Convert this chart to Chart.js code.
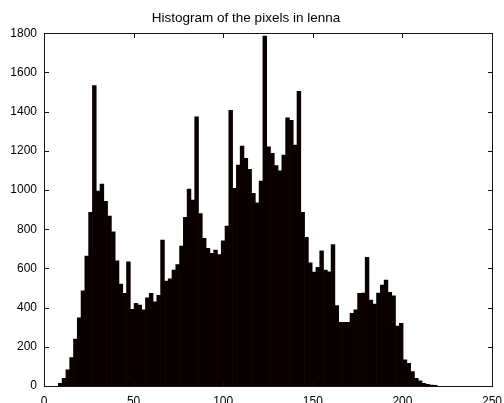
<!DOCTYPE html>
<html>
<head>
<meta charset="utf-8">
<script src="https://cdn.jsdelivr.net/npm/chart.js@4.4.1/dist/chart.umd.min.js"></script>
<style>
  html, body { margin: 0; padding: 0; background: #fff; }
  #wrap { width: 504px; height: 403px; position: relative; }
  #box { position: absolute; border: 1px solid #151515; box-sizing: border-box; pointer-events: none; }
</style>
</head>
<body>
<div id="wrap"><canvas id="histChart" width="504" height="403"></canvas><div id="box"></div></div>
<script>
// 100 bins, first edge and bin width
const binStart = 8.0;
const binWidth = 2.114;

const pixelCounts = [
    14, 39, 82, 145, 239, 348, 485, 663, 886, 1533,
    994, 1030, 942, 867, 787, 639, 520, 473, 634, 391,
    422, 413, 388, 450, 473, 430, 462, 745, 535, 547,
    592, 620, 714, 860, 1005, 949, 1373, 880, 753, 702,
    677, 694, 671, 741, 816, 1407, 1008, 1127, 1224, 1161,
    1105, 983, 935, 1045, 1785, 1220, 1187, 1124, 1098, 1178,
    1368, 1356, 1229, 1504, 886, 758, 629, 581, 605, 690,
    592, 583, 722, 410, 325, 325, 325, 371, 388, 473,
    474, 656, 438, 418, 474, 515, 541, 478, 460, 306,
    320, 133, 116, 73, 39, 27, 14, 8, 5, 3
];

const xTicks = [0, 50, 100, 150, 200, 250];
const yTicks = [0, 200, 400, 600, 800, 1000, 1200, 1400, 1600, 1800];

const histData = pixelCounts.map((count, i) => ({
    x: binStart + binWidth * (i + 0.5),
    y: count
}));

const tickFont = { family: 'Liberation Sans', size: 12 };
const frameColor = '#151515';

// box round the plot area + inward ticks on all four sides
const frameTicks = {
    id: 'frameTicks',
    afterDraw(chart) {
        const ctx = chart.ctx;
        const a = chart.chartArea;
        const xs = chart.scales.x;
        const ys = chart.scales.y;
        const len = 4;
        const left = Math.round(a.left), right = Math.round(a.right);
        const top = Math.round(a.top), bottom = Math.round(a.bottom);

        const box = document.getElementById('box');
        box.style.left = left + 'px';
        box.style.top = top + 'px';
        box.style.width = (right - left + 1) + 'px';
        box.style.height = (bottom - top + 1) + 'px';

        ctx.save();
        ctx.fillStyle = frameColor;
        ctx.fillRect(left, top, right - left + 1, 1);
        ctx.fillRect(left, bottom, right - left + 1, 1);
        ctx.fillRect(left, top, 1, bottom - top + 1);
        ctx.fillRect(right, top, 1, bottom - top + 1);
        xTicks.forEach(v => {
            const px = Math.round(xs.getPixelForValue(v));
            ctx.fillRect(px, bottom - len, 1, len);
            ctx.fillRect(px, top + 1, 1, len);
        });
        yTicks.forEach(v => {
            const py = Math.round(ys.getPixelForValue(v));
            ctx.fillRect(left + 1, py, len, 1);
            ctx.fillRect(right - len, py, len, 1);
        });
        ctx.restore();
    }
};

const histCtx = document.getElementById('histChart').getContext('2d');
const histChart = new Chart(histCtx, {
    type: 'bar',
    data: {
        datasets: [{
            label: 'pixels',
            data: histData,
            backgroundColor: '#0a0000',
            borderWidth: 0,
            barPercentage: 1,
            categoryPercentage: 1
        }]
    },
    options: {
        responsive: false,
        animation: false,
        layout: {
            padding: { left: 0, right: 12, top: 0, bottom: 0 }
        },
        scales: {
            x: {
                type: 'linear',
                min: 0,
                max: 250,
                offset: false,
                afterBuildTicks: scale => {
                    scale.ticks = xTicks.map(v => ({ value: v }));
                },
                afterFit: scale => {
                    scale.height = 17;
                    scale.paddingLeft = 0;
                    scale.paddingRight = 0;
                },
                ticks: {
                    color: '#000',
                    padding: 8,
                    maxRotation: 0,
                    callback: v => String(v),
                    font: tickFont
                },
                grid: { display: false, drawTicks: false },
                border: { display: false }
            },
            y: {
                min: 0,
                max: 1800,
                afterBuildTicks: scale => {
                    scale.ticks = yTicks.map(v => ({ value: v }));
                },
                afterFit: scale => { scale.width = 44; },
                ticks: {
                    color: '#000',
                    padding: 7,
                    callback: v => String(v),
                    font: tickFont
                },
                grid: { display: false, drawTicks: false },
                border: { display: false }
            }
        },
        plugins: {
            legend: { display: false },
            tooltip: { enabled: false },
            title: {
                display: true,
                text: 'Histogram of the pixels in lenna',
                color: '#000',
                font: { family: 'Liberation Sans', size: 13.5, weight: 'normal' },
                padding: { top: 10, bottom: 7 }
            }
        }
    },
    plugins: [frameTicks]
});
</script>
</body>
</html>
